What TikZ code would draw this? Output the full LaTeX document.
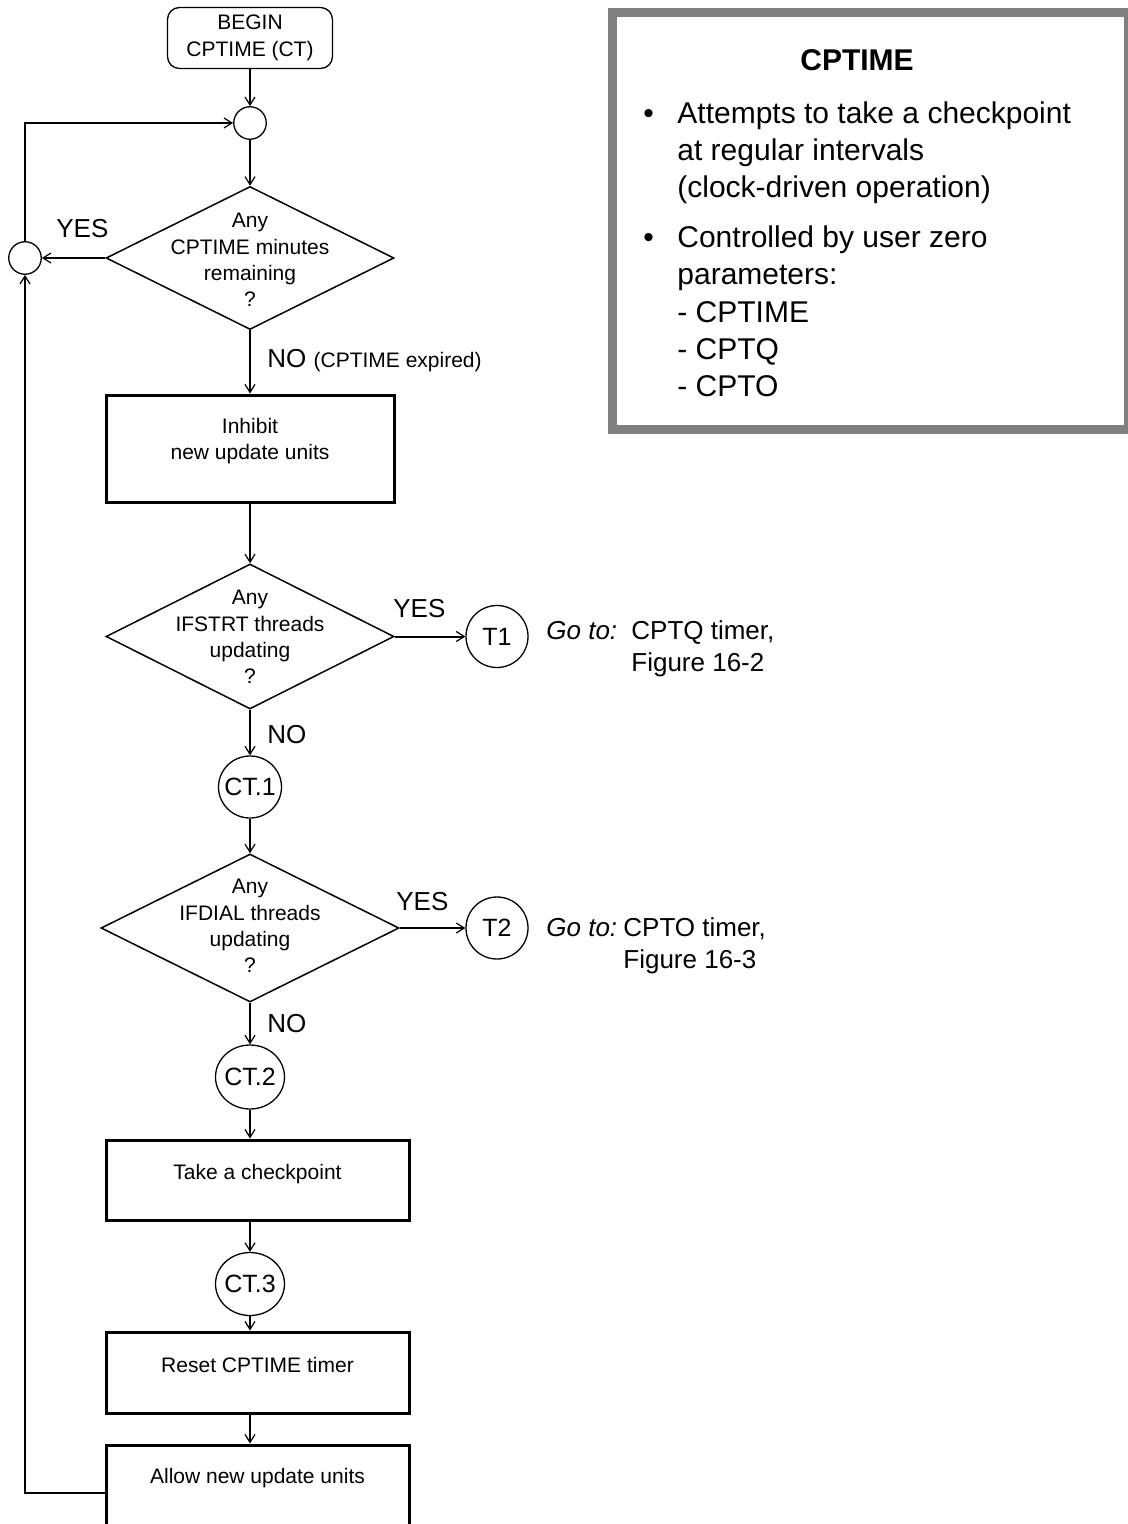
\documentclass[tikz,border=0pt]{standalone}
\usepackage{fontspec}
\setmainfont{Liberation Sans}
\usetikzlibrary{shapes.geometric,arrows.meta}
\definecolor{framegray}{RGB}{128,128,128}
\begin{document}
\begin{tikzpicture}[x=0.5pt,y=-0.5pt,
  txt/.style={font=\fontsize{10.5}{13.2}\selectfont, align=center, inner sep=0pt},
  lbl/.style={font=\fontsize{13}{16}\selectfont, inner sep=0pt},
  startbox/.style={draw, line width=0.65pt, rounded corners=6pt,
    minimum width=82.5pt, minimum height=30.5pt, txt},
  junc/.style={draw, circle, line width=0.65pt, minimum size=16.25pt, inner sep=0pt},
  conncirc/.style={draw, ellipse, line width=0.65pt, inner xsep=-2pt, inner ysep=0pt,
    font=\fontsize{12.5}{15}\selectfont},
  dec/.style={draw, diamond, line width=0.75pt, inner sep=0pt},
  proc/.style={draw, rectangle, line width=1.5pt, inner sep=0pt,
    minimum width=151.5pt, minimum height=40.5pt},
  conn/.style={line width=1pt, -{Straight Barb[length=4pt,width=5pt,line width=0.6pt]}},
]
\useasboundingbox (0,0) rectangle (1128,1524);
\clip (0,0) rectangle (1128,1524);

% ---------- main column ----------
\node[startbox] (begin) at (250,38) {BEGIN\\CPTIME (CT)};
\node[junc] (j1) at (250,123) {};

\node[dec, minimum width=144pt, minimum height=71.5pt] (d1) at (250,258) {};
\node[txt] (d1t) at (250,260) {Any\\CPTIME minutes\\remaining\\?};
\node[junc] (jL) at (25,258) {};

\node[proc, minimum width=144pt, minimum height=53.5pt] (b1) at (250,448.5) {};
\node[txt] (b1t) at (250,441) {Inhibit\\new update units};

\node[dec, minimum width=144pt, minimum height=72.5pt] (d2) at (250,636.5) {};
\node[txt] (d2t) at (250,637) {Any\\IFSTRT threads\\updating\\?};
\node[conncirc, minimum width=31pt, minimum height=31pt] (t1) at (497,636.5) {T1};

\node[conncirc, minimum width=31.5pt, minimum height=31pt] (ct1) at (250,787) {CT.1};

\node[dec, minimum width=149pt, minimum height=74pt] (d3) at (250,928) {};
\node[txt] (d3t) at (250,926) {Any\\IFDIAL threads\\updating\\?};
\node[conncirc, minimum width=31pt, minimum height=31pt] (t2) at (497,928) {T2};

\node[conncirc, minimum width=34.5pt, minimum height=32pt] (ct2) at (250,1077) {CT.2};

\node[proc, minimum height=40pt] (b2) at (257.5,1180) {};
\node[txt] (b2t) at (257.5,1174) {Take a checkpoint};

\node[conncirc, minimum width=34.5pt, minimum height=31.5pt] (ct3) at (250,1284) {CT.3};

\node[proc] (b3) at (257.5,1372.5) {};
\node[txt] (b3t) at (257.5,1365) {Reset CPTIME timer};

\node[proc] (b4) at (257.5,1485.5) {};
\node[txt] (b4t) at (257.5,1478) {Allow new update units};

% ---------- branch labels ----------
\node[lbl, anchor=base west] (yes1) at (56,237.5) {YES};
\node[lbl, anchor=base west] (no1) at (267,367.5)
  {NO {\fontsize{10.5}{13}\selectfont (CPTIME expired)}};
\node[lbl, anchor=base west] (yes2) at (393,617.3) {YES};
\node[lbl, anchor=base west] (no2) at (267,743) {NO};
\node[lbl, anchor=base west] (yes3) at (396,910) {YES};
\node[lbl, anchor=base west] (no3) at (267,1032) {NO};

\node[lbl, anchor=west] (goto1) at (546,649)
  {\begin{tabular}{@{}p{42.5pt}@{}l@{}}\textit{Go to:} & CPTQ timer,\\ & Figure 16-2\end{tabular}};
\node[lbl, anchor=west] (goto2) at (546,946.5)
  {\begin{tabular}{@{}p{38.5pt}@{}l@{}}\textit{Go to:} & CPTO timer,\\ & Figure 16-3\end{tabular}};

% ---------- connectors ----------
\draw[conn] (begin) -- (j1);
\draw[conn] (j1) -- (d1);
\draw[conn] (d1.west) -- (jL);
\draw[conn] (jL) |- (j1);
\draw[conn] (d1.south) -- (b1);
\draw[conn] (b1) -- (d2);
\draw[conn] (d2.east) -- (t1);
\draw[conn] (d2.south) -- (ct1);
\draw[conn] (ct1) -- (d3);
\draw[conn] (d3.east) -- (t2);
\draw[conn] (d3.south) -- (ct2);
\draw[conn] (ct2) -- (ct2 |- b2.north);
\draw[conn] (b2.south -| ct3) -- (ct3);
\draw[conn] (ct3) -- (ct3 |- b3.north);
\draw[conn] (b3.south -| ct3) -- (b4.north -| ct3);
\draw[conn] ([yshift=-3.75pt]b4.west) -| (jL);

% ---------- summary panel ----------
\node[draw=framegray, line width=4.5pt, minimum width=258pt, minimum height=208.25pt,
  inner sep=0pt] (info) at (870.5,220.75) {};
\node[font=\fontsize{15}{18}\selectfont\bfseries, inner sep=0pt] (infotitle) at (857,60) {CPTIME};
\node[anchor=north west, inner sep=0pt, font=\fontsize{15}{18.7}\selectfont] (infolist) at (643,96.5)
  {\begin{tabular}{@{}l@{\hspace{11.75pt}}l@{}}
   \textbullet & Attempts to take a checkpoint\\
               & at regular intervals\\
               & (clock-driven operation)\\[6pt]
   \textbullet & Controlled by user zero\\
               & parameters:\\
               & - CPTIME\\
               & - CPTQ\\
               & - CPTO
   \end{tabular}};
\end{tikzpicture}
\end{document}
